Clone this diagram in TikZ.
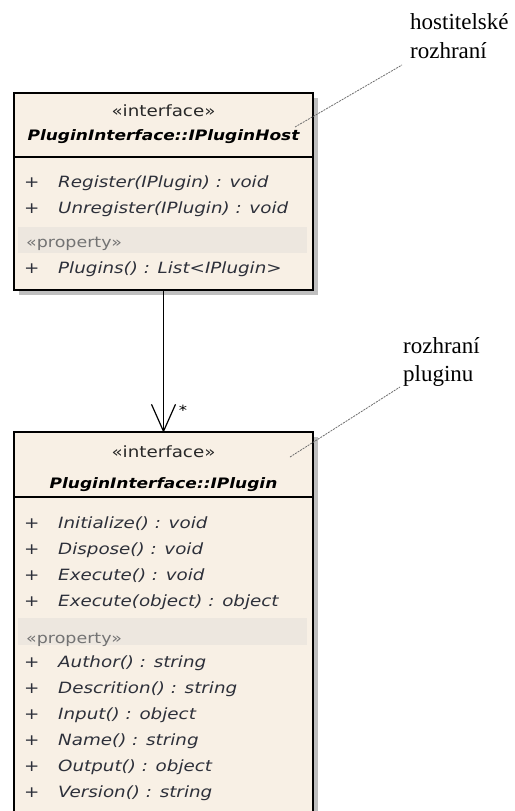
\documentclass[tikz,border=0pt]{standalone}
\usepackage{fontspec}
\setmainfont{Liberation Serif}
\newfontfamily\umlfont[FakeStretch=1.18]{DejaVu Sans}
\usetikzlibrary{shadows}
\definecolor{boxfill}{RGB}{248,240,229}
\definecolor{bandfill}{RGB}{237,231,223}
\definecolor{optext}{RGB}{45,48,58}
\definecolor{stereo}{RGB}{40,40,40}
\definecolor{propgray}{RGB}{115,115,115}
\definecolor{notegray}{RGB}{110,110,110}
\begin{document}
\begin{tikzpicture}[x=1pt,y=-1pt,
  umlbox/.style={draw=black, line width=1.4pt, fill=boxfill, inner sep=0pt,
    minimum width=299pt, drop shadow={shadow xshift=5pt, shadow yshift=-5pt, fill=black!25, opacity=1}},
  divider/.style={line width=1.2pt},
  band/.style={fill=bandfill, draw=none},
  stereotype/.style={anchor=base, inner sep=0pt, text=stereo, font=\umlfont\fontsize{15.5}{16}\selectfont},
  classname/.style={anchor=base, inner sep=0pt, text=black, font=\umlfont\bfseries\itshape\fontsize{14.4}{16}\selectfont},
  vis/.style={anchor=base west, inner sep=0pt, text=optext, font=\umlfont\fontsize{15.5}{16}\selectfont},
  op/.style={anchor=base west, inner sep=0pt, text=optext, font=\umlfont\itshape\fontsize{15.5}{16}\selectfont},
  prop/.style={anchor=base west, inner sep=0pt, text=propgray, font=\umlfont\fontsize{14.8}{16}\selectfont},
  notetext/.style={anchor=base west, inner sep=0pt, text=black, font=\fontsize{23}{28}\selectfont},
  noteline/.style={draw=notegray, line width=0.8pt, dash pattern=on 2pt off 1pt},
  assoc/.style={line width=1.2pt}]
\clip (0,0) rectangle (514,811);
\fill[white] (0,0) rectangle (514,811);

% ---------- IPluginHost ----------
\node[umlbox, minimum height=197pt] (host) at (163.5,191.5) {};
\draw[divider] (host.west |- 0,157) -- (host.east |- 0,157);
\fill[band] (18,227) rectangle (307,253);
\node[stereotype] (hst) at (163.5,116) {«interface»};
\node[classname] (hname) at (163.5,140) {PluginInterface::IPluginHost};
\node[vis] (hv1) at (24,187) {+};
\node[op]  (ho1) at (58,187) {Register(IPlugin) : void};
\node[vis] (hv2) at (24,213) {+};
\node[op]  (ho2) at (58,213) {Unregister(IPlugin) : void};
\node[prop] (hprop) at (26,247) {«property»};
\node[vis] (hv3) at (24,273) {+};
\node[op]  (ho3) at (58,273) {Plugins() : List<IPlugin>};

% ---------- IPlugin ----------
\node[umlbox, minimum height=383pt] (plugin) at (163.5,623.5) {};
\draw[divider] (plugin.west |- 0,497) -- (plugin.east |- 0,497);
\fill[band] (18,618) rectangle (307,645);
\node[stereotype] (pst) at (163.5,457) {«interface»};
\node[classname] (pname) at (163.5,488) {PluginInterface::IPlugin};
\node[vis] (pv1) at (24,528) {+};
\node[op]  (po1) at (58,528) {Initialize() : void};
\node[vis] (pv2) at (24,554) {+};
\node[op]  (po2) at (58,554) {Dispose() : void};
\node[vis] (pv3) at (24,580) {+};
\node[op]  (po3) at (58,580) {Execute() : void};
\node[vis] (pv4) at (24,606) {+};
\node[op]  (po4) at (58,606) {Execute(object) : object};
\node[prop] (pprop) at (26,643) {«property»};
\node[vis] (pv5) at (24,667) {+};
\node[op]  (po5) at (58,667) {Author() : string};
\node[vis] (pv6) at (24,693) {+};
\node[op]  (po6) at (58,693) {Descrition() : string};
\node[vis] (pv7) at (24,719) {+};
\node[op]  (po7) at (58,719) {Input() : object};
\node[vis] (pv8) at (24,745) {+};
\node[op]  (po8) at (58,745) {Name() : string};
\node[vis] (pv9) at (24,771) {+};
\node[op]  (po9) at (58,771) {Output() : object};
\node[vis] (pv10) at (24,797) {+};
\node[op]  (po10) at (58,797) {Version() : string};

% ---------- association ----------
\draw[assoc] (host.south) -- (plugin.north);
\draw[assoc] (plugin.north) ++(-12,-27) -- (plugin.north) -- ++(12,-27);
\node[font=\umlfont\fontsize{14}{14}\selectfont, inner sep=0pt] (mult) at (183,410) {*};

% ---------- notes ----------
\node[notetext] (n1a) at (410,29) {hostitelské};
\node[notetext] (n1b) at (410,58) {rozhraní};
\coordinate (n1s) at (295,127);
\coordinate (n1e) at (402,65);
\draw[noteline] (n1s) -- (n1e);

\node[notetext] (n2a) at (403,353) {rozhraní};
\node[notetext] (n2b) at (403,381) {pluginu};
\coordinate (n2s) at (290,457);
\coordinate (n2e) at (400,387);
\draw[noteline] (n2s) -- (n2e);
\end{tikzpicture}
\end{document}
